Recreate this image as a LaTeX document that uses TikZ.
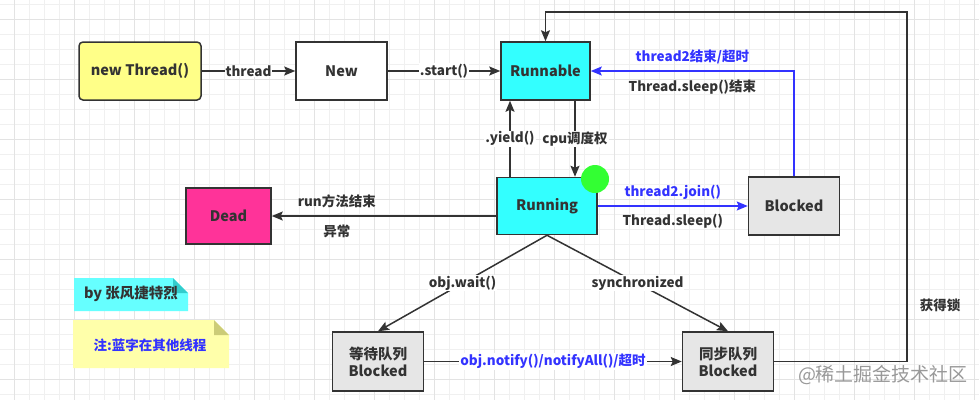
\documentclass[tikz,border=0pt]{standalone}
\usepackage{fontspec}
\setmainfont{Noto Sans CJK SC}
\usetikzlibrary{arrows.meta,positioning}
\definecolor{linegray}{HTML}{333333}
\definecolor{arrowblue}{HTML}{3333FF}
\definecolor{runcyan}{HTML}{33FFFF}
\definecolor{startyellow}{HTML}{FFFF88}
\definecolor{deadpink}{HTML}{FF3399}
\definecolor{blockgray}{HTML}{E6E6E6}
\definecolor{dotgreen}{HTML}{33FF33}
\definecolor{notecyan}{HTML}{66FFFF}
\definecolor{notecyanfold}{HTML}{33CCCC}
\definecolor{noteyellow}{HTML}{FFFFAA}
\definecolor{noteyellowfold}{HTML}{CCCC77}
\newcommand{\boxfont}{\fontsize{14.5}{17}\selectfont\bfseries}
\newcommand{\edgefont}{\fontsize{13.5}{16}\selectfont\bfseries}
\tikzset{
	state/.style={draw=linegray, line width=1.5pt, minimum width=91pt, minimum height=58pt,
		inner sep=2pt, align=center, font=\boxfont, text=linegray},
	flow/.style={draw=linegray, line width=1.5pt, -{Stealth[length=11pt,width=9pt,inset=2pt]}},
	blueflow/.style={flow, draw=arrowblue},
	lbl/.style={font=\edgefont, text=linegray, fill=white, inner sep=1pt},
	bluelbl/.style={lbl, text=arrowblue},
	freelbl/.style={font=\edgefont, text=linegray, inner sep=1pt},
	gridminor/.style={draw=black!6, line width=0.6pt},
	gridmajor/.style={draw=black!11, line width=0.6pt},
}
\begin{document}
\begin{tikzpicture}[x=1pt, y=-1pt]
		\useasboundingbox (0,0) rectangle (979,400);
		% Background grid
		\fill[white] (0,0) rectangle (979,400);
		\foreach \gx in {0,...,65} \draw[gridminor] (\gx*15+14.7,0)--(\gx*15+14.7,400);
		\foreach \gy in {0,...,26} \draw[gridminor] (0,\gy*15+4)--(979,\gy*15+4);
		\foreach \gx in {0,...,16} \draw[gridmajor] (\gx*60+14.7,0)--(\gx*60+14.7,400);
		\foreach \gy in {0,...,6} \draw[gridmajor] (0,\gy*60+19)--(979,\gy*60+19);
		% States
		\node[state, fill=startyellow, minimum width=122pt, rounded corners=4pt] (newthr) at (140,71) {new Thread()};
		\node[state, fill=white] (new) at (341.5,71) {New};
		\node[state, fill=runcyan, minimum width=89pt] (runnable) at (545.5,71) {Runnable};
		\node[state, fill=runcyan, minimum width=100pt, minimum height=57pt] (running) at (547,206) {Running};
		\node[state, fill=deadpink, minimum width=85pt, minimum height=56pt] (dead) at (228.5,216) {Dead};
		\node[state, fill=blockgray] (blocked) at (794,206) {Blocked};
		\node[state, fill=blockgray, minimum height=59pt] (wait) at (378,361.5) {等待队列\\Blocked};
		\node[state, fill=blockgray, minimum height=59pt] (sync) at (728,361.5) {同步队列\\Blocked};
		\fill[dotgreen] (595,179) circle [radius=14];
		% Start
		\draw[flow] (newthr) -- node[lbl] {thread} (new);
		\draw[flow] (new) -- node[lbl] {.start()} (runnable);
		% Runnable <-> Running
		\draw[flow] ([xshift=29.5pt]runnable.south) -- ([xshift=29.5pt]runnable.south |- running.north)
			node[midway, lbl] {cpu调度权};
		\draw[flow] ([xshift=-37pt]running.north) -- ([xshift=-37pt]running.north |- runnable.south)
			node[midway, lbl] {.yield()};
		% Dead
		\draw[flow] (running.west |- dead.east) -- (dead.east)
			node[pos=0.71, freelbl, above=6pt] {run方法结束}
			node[pos=0.71, freelbl, below=7pt] {异常};
		% Blocked by other threads
		\draw[blueflow] (running.east) -- (blocked.west)
			node[midway, freelbl, text=arrowblue, above=5pt] {thread2.join()}
			node[midway, freelbl, below=6pt] {Thread.sleep()};
		\draw[blueflow] (blocked.north) |- (runnable.east)
			node[pos=0.75, freelbl, text=arrowblue, above=5pt] {thread2结束/超时}
			node[pos=0.75, freelbl, below=7pt] {Thread.sleep()结束};
		% Queues
		\draw[flow] (running.south) -- node[lbl] {obj.wait()} (wait.north);
		\draw[flow] (running.south) -- node[lbl] {synchronized} (sync.north);
		\draw[flow] (wait) -- node[bluelbl] {obj.notify()/notifyAll()/超时} (sync);
		\coordinate (lockturn) at (907,12);
		\draw[flow] (sync.east) -| node[pos=0.58, freelbl, right=11pt] {获得锁} (lockturn) -| (runnable.north);
		% Notes
		\fill[notecyan] (74,278) -- (173,278) -- (188,293) -- (188,311) -- (74,311) -- cycle;
		\fill[notecyanfold] (173,278) -- (188,293) -- (173,293) -- cycle;
		\node[font=\fontsize{14.5}{17}\selectfont\bfseries, text=linegray] (author) at (131,294) {by 张风捷特烈};
		\fill[noteyellow] (73,320) -- (214,320) -- (229,335) -- (229,368) -- (73,368) -- cycle;
		\fill[noteyellowfold] (214,320) -- (229,335) -- (214,335) -- cycle;
		\node[font=\edgefont, text=arrowblue] (remark) at (150,345) {注:蓝字在其他线程};
		% Watermark
		\node[font=\fontsize{19}{21}\selectfont, text=black!40] (mark) at (883,375) {@稀土掘金技术社区};
		\end{tikzpicture}
\end{document}
